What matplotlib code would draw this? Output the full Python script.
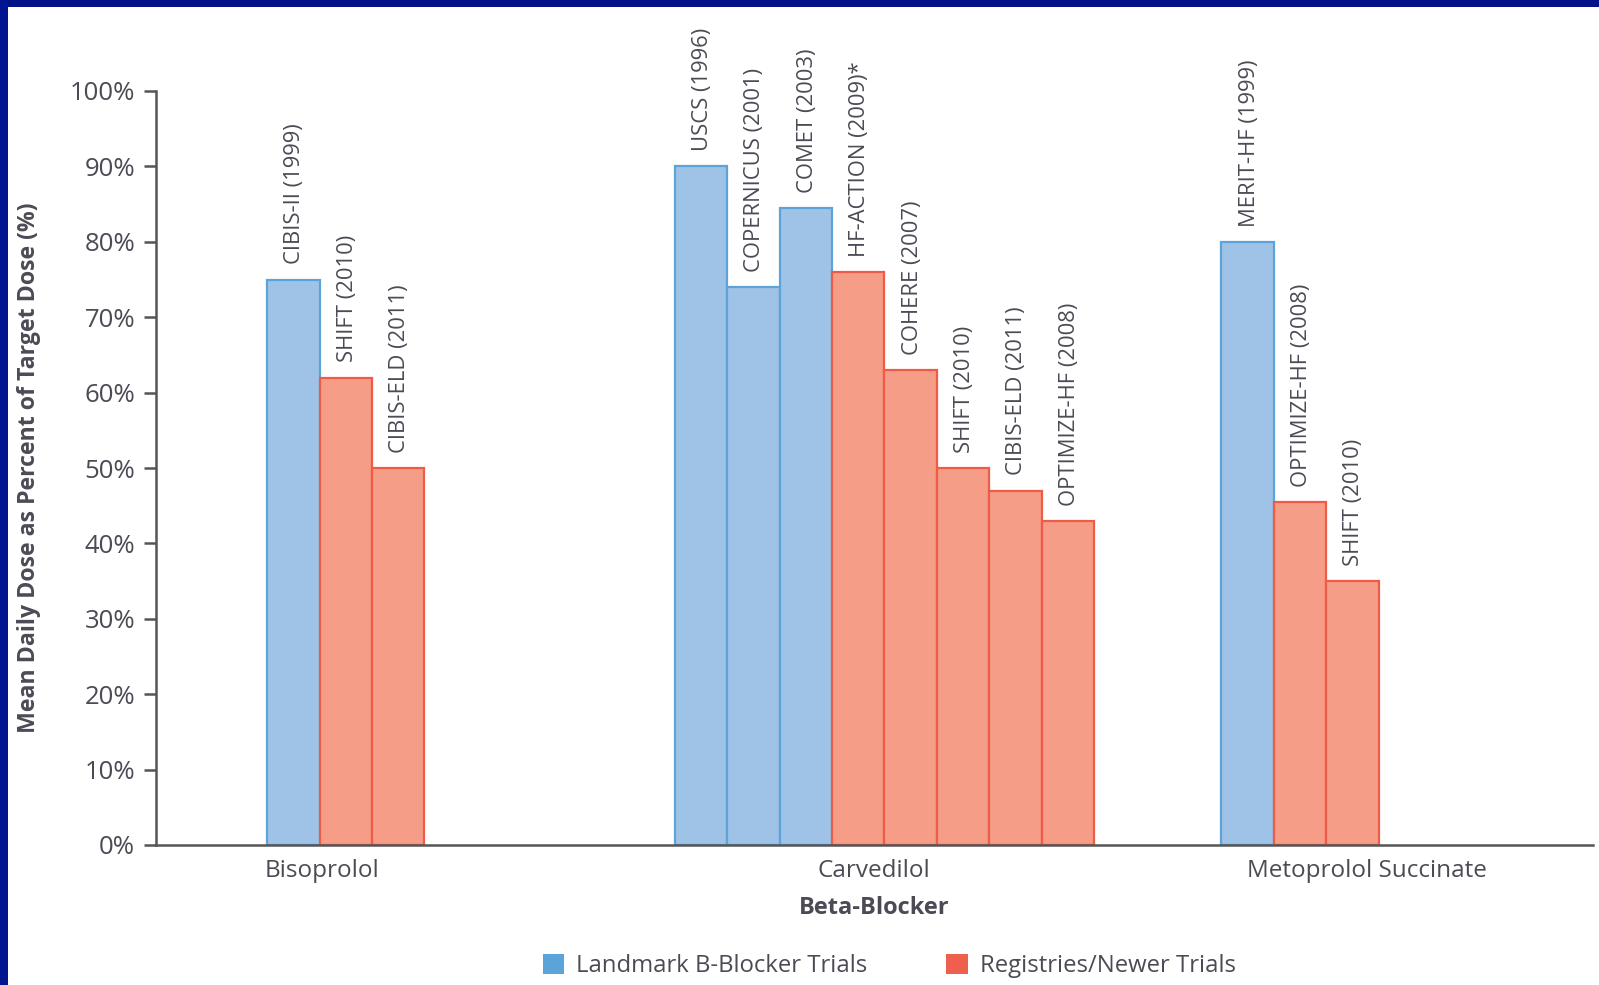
import matplotlib.pyplot as plt
from matplotlib.patches import Rectangle, Patch

# beta-blocker trials, grouped by drug
drugs = ["Bisoprolol", "Carvedilol", "Metoprolol Succinate"]

biso_trials = ["CIBIS-II (1999)", "SHIFT (2010)", "CIBIS-ELD (2011)"]
biso_dose = [75, 62, 50]
biso_landmark = [True, False, False]

carv_trials = ["USCS (1996)", "COPERNICUS (2001)", "COMET (2003)", "HF-ACTION (2009)*",
               "COHERE (2007)", "SHIFT (2010)", "CIBIS-ELD (2011)", "OPTIMIZE-HF (2008)"]
carv_dose = [90, 74, 84.5, 76, 63, 50, 47, 43]
carv_landmark = [True, True, True, False, False, False, False, False]

meto_trials = ["MERIT-HF (1999)", "OPTIMIZE-HF (2008)", "SHIFT (2010)"]
meto_dose = [80, 45.5, 35]
meto_landmark = [True, False, False]

yticks = [0, 10, 20, 30, 40, 50, 60, 70, 80, 90, 100]

# colours
blue_fill, blue_edge = "#9fc3e6", "#5ba3d9"
red_fill, red_edge = "#f59d86", "#ee5b47"
txt = "#4a4b55"

plt.rcParams['font.family'] = ['Open Sans', 'DejaVu Sans']

fig = plt.figure(figsize=(15.99, 9.85), dpi=100)
fig.patch.set_facecolor("white")
# navy frame on top and left
fig.patches.append(Rectangle((0, 1 - 7 / 985), 1, 7 / 985, transform=fig.transFigure,
                             facecolor="#001287", edgecolor="none", zorder=0))
fig.patches.append(Rectangle((0, 0), 8 / 1599, 1, transform=fig.transFigure,
                             facecolor="#00158f", edgecolor="none", zorder=0))

ax = fig.add_axes([156 / 1599, 1 - 845 / 985, (1593 - 156) / 1599, (845 - 91) / 985])

groups = [(2.12, biso_trials, biso_dose, biso_landmark),
          (9.9, carv_trials, carv_dose, carv_landmark),
          (20.33, meto_trials, meto_dose, meto_landmark)]

for start, trials, dose, landmark in groups:
    for i, (name, val, lm) in enumerate(zip(trials, dose, landmark)):
        x = start + i + 0.5
        ax.bar(x, val, width=1.0, color=blue_fill if lm else red_fill,
               edgecolor=blue_edge if lm else red_edge, linewidth=1.6, zorder=2)
        ax.annotate(name, (x, val), xytext=(1, 11), textcoords="offset points",
                    rotation=90, ha="center", va="bottom", fontsize=15.8, color=txt)

ax.set_xlim(0, 27.42)
ax.set_ylim(0, 100)
ax.set_yticks(yticks)
ax.set_yticklabels([f"{v}%" for v in yticks])
ax.set_xticks([3.17, 13.7, 23.1])
ax.set_xticklabels(drugs)

for s in ["top", "right"]:
    ax.spines[s].set_visible(False)
for s in ["left", "bottom"]:
    ax.spines[s].set_color("#555555")
    ax.spines[s].set_linewidth(1.8)

ax.tick_params(axis="y", length=9, width=1.8, color="#555555", labelsize=18.5,
               labelcolor=txt, pad=6)
ax.tick_params(axis="x", length=0, labelsize=17.5, labelcolor=txt, pad=10)

ax.set_ylabel("Mean Daily Dose as Percent of Target Dose (%)", fontsize=16.7,
              fontweight="bold", color=txt)
ax.yaxis.set_label_coords(-0.08, 0.5)
ax.set_xlabel("Beta-Blocker", fontsize=17, fontweight="bold", color=txt)
ax.xaxis.set_label_coords(0.5, -0.068)

handles = [Patch(facecolor="#5ba4d9", edgecolor="none", label="Landmark B-Blocker Trials"),
           Patch(facecolor="#ef5f4d", edgecolor="none", label="Registries/Newer Trials")]
leg = fig.legend(handles=handles, loc="center", bbox_to_anchor=(0.556, 0.019), ncol=2,
                 frameon=False, fontsize=17.2, handlelength=0.9, handleheight=0.9,
                 handletextpad=0.5, columnspacing=3.3)
for t in leg.get_texts():
    t.set_color(txt)

fig.savefig("out.png", dpi=100)
